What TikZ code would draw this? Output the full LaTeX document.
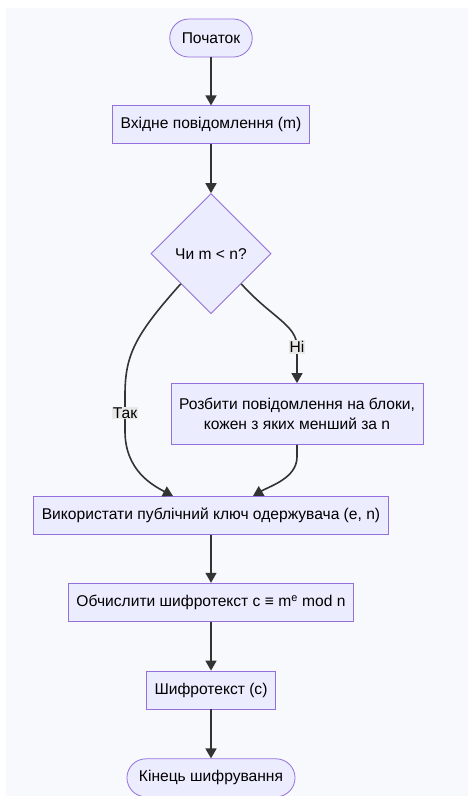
\documentclass[tikz,border=0pt]{standalone}
\usepackage{fontspec}
\setmainfont{Liberation Sans}
\usetikzlibrary{arrows.meta}
\usetikzlibrary{positioning, shapes.geometric}
\definecolor{nodefill}{HTML}{ECECFF}
\definecolor{nodeline}{HTML}{9370DB}
\definecolor{edgeline}{HTML}{333333}
\definecolor{labelbg}{HTML}{E8E8E8}
\definecolor{panelbg}{HTML}{F8F9FC}
\tikzset{
  stepbox/.style={draw=nodeline, fill=nodefill, line width=0.8pt, minimum height=38pt,
    inner xsep=8pt, align=center, font=\fontsize{15.6}{20}\selectfont},
  termbox/.style={stepbox, rounded corners=19pt, inner xsep=12pt},
  decbox/.style={stepbox, diamond, minimum width=120pt, minimum height=120pt, inner sep=0pt},
  flow/.style={draw=edgeline, line width=1.6pt, -{Triangle[length=10pt,width=11pt]}},
  edgelabel/.style={fill=labelbg, inner sep=1pt, font=\fontsize{15.6}{17}\selectfont}
}
\begin{document}
\begin{tikzpicture}[x=1pt, y=-1pt, node distance=48pt]
        \useasboundingbox (0,0) rectangle (468,796);
        \fill[white] (0,0) rectangle (468,796);
        \fill[panelbg] (6,8) rectangle (468,796);

        \node[termbox] (start) at (211,38) {Початок};
        \node[stepbox, below=of start] (msg) {Вхідне повідомлення (m)};
        \node[decbox, below=49pt of msg] (dia) {Чи m < n?};
        \node[stepbox, minimum height=61pt] (split) at (297,414) {Розбити повідомлення на блоки,\\кожен з яких менший за n};
        \node[stepbox, below=182pt of dia] (key) {Використати публічний ключ одержувача (e, n)};
        \node[stepbox, below=of key] (calc) {Обчислити шифротекст с ≡ m\textsuperscript{e} mod n};
        \node[stepbox, below=49pt of calc] (cipher) {Шифротекст (с)};
        \node[termbox, below=49pt of cipher] (finish) {Кінець шифрування};

        \draw[flow] (start) -- (msg);
        \draw[flow] (msg) -- (dia);
        % yes: straight to the key box
        \draw[flow] (dia.south west) .. controls (135,335) and (125,355) .. (125,395)
            -- node[edgelabel] {Так} (125,431)
            .. controls (125,470) and (152,485) .. ([xshift=-38pt]key.north);
        % no: split into blocks first
        \draw[flow] (dia.south east) .. controls (272,318) and (297,325) .. (297,347)
            node[edgelabel] {Ні} -- (split.north);
        \draw[flow] (split.south) -- ++(0,12)
            .. controls (297,478) and (270,486) .. ([xshift=42pt]key.north);
        \draw[flow] (key) -- (calc);
        \draw[flow] (calc) -- (cipher);
        \draw[flow] (cipher) -- (finish);
\end{tikzpicture}
\end{document}
